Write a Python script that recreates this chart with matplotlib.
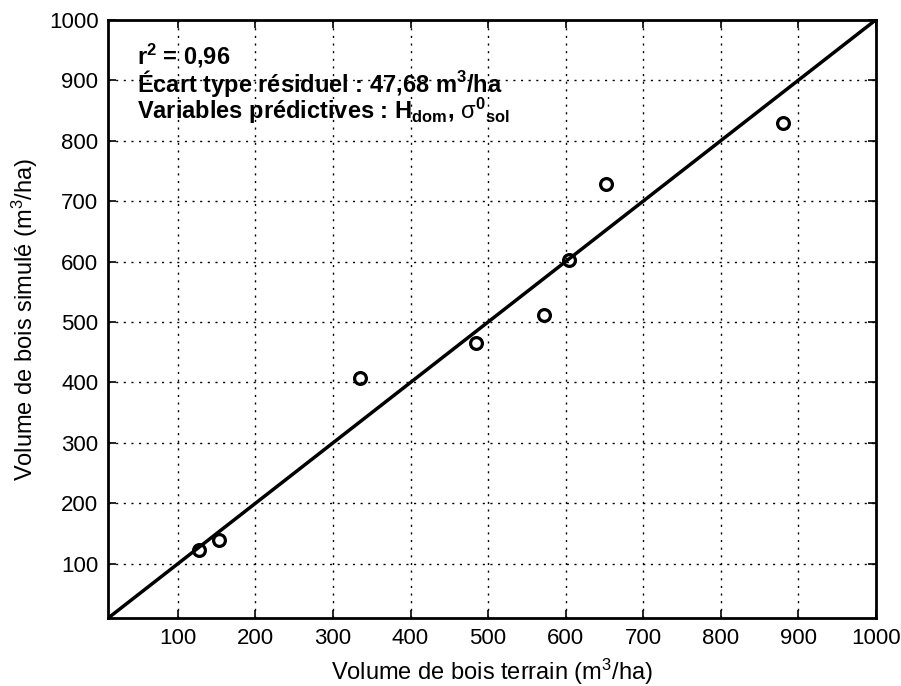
import matplotlib.pyplot as plt

# 观测值 (terrain) 与模拟值 (simulé), 单位 m3/ha
terrain = [127, 153, 335, 484, 572, 604, 652, 880]
simule = [123, 140, 408, 465, 511, 603, 728, 829]

# 1:1 参考线
line_x = [10, 1000]
line_y = [10, 1000]

# 刻度
ticks = [100, 200, 300, 400, 500, 600, 700, 800, 900, 1000]

# 文本
stats_lines = [
    r"r$^{\mathbf{2}}$ = 0,96",
    r"Écart type résiduel : 47,68 m$^{\mathbf{3}}$/ha",
    r"Variables prédictives : $\mathbf{H_{dom}}$, "
    r"$\mathrm{\sigma}^{\mathbf{0}}{}_{\mathbf{sol}}$",
]
x_label = r"Volume de bois terrain (m$^3$/ha)"
y_label = r"Volume de bois simulé (m$^3$/ha)"

plt.rcParams["font.family"] = ["Liberation Sans", "DejaVu Sans"]
plt.rcParams["mathtext.fontset"] = "custom"
plt.rcParams["mathtext.rm"] = "Liberation Sans"
plt.rcParams["mathtext.bf"] = "Liberation Sans:bold"
plt.rcParams["mathtext.it"] = "Liberation Sans:italic"

fig = plt.figure(figsize=(9.01, 6.86), dpi=100)
ax = fig.add_axes([0.12, 0.099, 0.852, 0.872])

# 网格 (黑色点线)
ax.grid(True, color="black", linestyle=(0, (1.5, 4)), linewidth=1)
ax.set_axisbelow(True)

# 1:1 线
ax.plot(line_x, line_y, color="black", linewidth=2.5)

# 散点 (空心圆)
ax.plot(
    terrain,
    simule,
    linestyle="none",
    marker="o",
    markersize=8.5,
    markerfacecolor="none",
    markeredgecolor="black",
    markeredgewidth=2.3,
)

ax.set_xlim(10, 1000)
ax.set_ylim(10, 1000)
ax.set_xticks(ticks)
ax.set_yticks(ticks)
ax.tick_params(direction="in", length=6, width=1.2, labelsize=16,
               top=True, right=True, pad=7)
for s in ax.spines.values():
    s.set_linewidth(2)

ax.set_xlabel(x_label, fontsize=17, labelpad=6)
ax.set_ylabel(y_label, fontsize=17, labelpad=6)

# 统计信息
for i, txt in enumerate(stats_lines):
    ax.text(
        0.038, 0.926 - i * 0.046, txt,
        transform=ax.transAxes,
        fontsize=17,
        fontweight="bold",
        va="baseline",
    )

fig.savefig("out.png", dpi=100)
